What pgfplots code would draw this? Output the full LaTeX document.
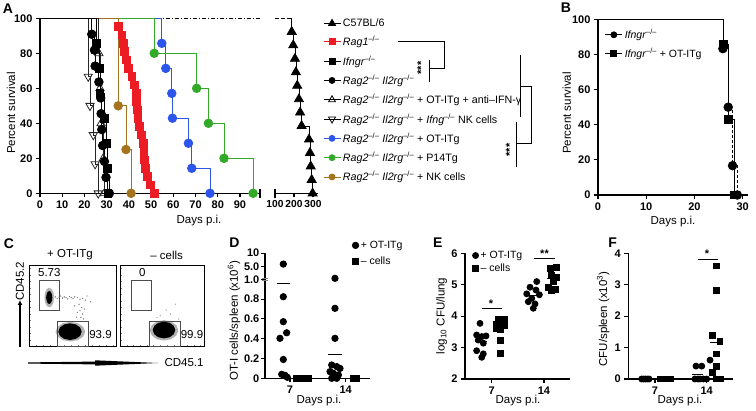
\documentclass[border=0pt]{standalone}
\usepackage{pgfplots}
\pgfplotsset{compat=1.18}
\usetikzlibrary{arrows.meta}
\usepackage{fontspec}
\setmainfont{Liberation Sans}

\definecolor{cred}{RGB}{237,28,36}
\definecolor{cblue}{RGB}{45,85,235}
\definecolor{cgreen}{RGB}{50,170,40}
\definecolor{cbrown}{RGB}{165,115,30}
\newcommand{\ko}{\textsuperscript{–/–}}
\newcommand{\rr}{\textit{Rag2}\ko{} \textit{Il2rg}\ko}

\pgfplotsset{
  base/.style={scale only axis, anchor=south west, clip=false, enlargelimits=false,
    axis lines=left, axis line style={-, line width=1.1pt},
    tick align=outside, major tick length=4pt,
    tick style={black, line width=1.1pt},
    tick label style={font=\fontsize{11}{12}\selectfont\bfseries},
    /pgf/number format/assume math mode=true,
    every axis plot/.append style={line width=0.8pt}},
  km/.style={const plot, mark phase=2, forget plot},
  flow/.style={scale only axis, anchor=south west, clip=false,
    xmin=0, xmax=100, ymin=0, ymax=100,
    axis line style={line width=0.7pt},
    xtick={8,16,...,96}, ytick={8,16,...,96}, xticklabel=\empty, yticklabel=\empty,
    tick align=inside, major tick length=2pt, xtick pos=bottom, ytick pos=left,
    tick style={gray, line width=0.4pt}},
  dot/.style={only marks, black, mark=*, mark size=3.2pt},
  sq/.style={only marks, black, mark=square*, mark size=2.9pt},
  mean/.style={black, line width=1pt, forget plot},
  mleg/.style={legend cell align=left, legend image code/.code={\draw[##1] plot coordinates {(0pt,0pt)};},
    legend style={draw=none, fill=none, inner sep=0pt, anchor=north west,
      font=\fontsize{10.5}{12}\selectfont, /tikz/every even column/.append style={column sep=3pt}}},
}

\begin{document}
\begin{tikzpicture}
\path[use as bounding box] (0pt,0pt) rectangle (756pt,-411pt);

% ---------------- A (days 0-99)
\begin{axis}[base, at={(40pt,-193.3pt)}, width=220pt, height=175pt,
  xmin=0, xmax=99, ymin=0, ymax=100,
  xtick={0,10,...,90}, ytick={0,20,...,100},
  legend cell align=left,
  legend style={at={(rel axis cs:1.286,1.01)}, anchor=north west, draw=none, fill=none,
    inner sep=0pt, row sep=4.4pt, font=\fontsize{10.7}{12}\selectfont,
    /tikz/every even column/.append style={column sep=2pt}}]
\addlegendimage{black, mark=triangle*, mark size=4pt}
\addlegendentry{C57BL/6}
\addlegendimage{cred, mark=square*, mark size=3pt}
\addlegendentry{\textit{Rag1}\ko}
\addlegendimage{black, mark=square*, mark size=3pt}
\addlegendentry{\textit{Ifngr}\ko}
\addlegendimage{black, mark=*, mark size=3pt}
\addlegendentry{\rr}
\addlegendimage{black, mark=triangle, mark size=4pt, mark options={fill=white}}
\addlegendentry{\rr{} + OT-ITg + anti–IFN-γ}
\addlegendimage{black, mark=triangle, mark size=4pt, mark options={fill=white, rotate=180}}
\addlegendentry{\rr{} + \textit{Ifng}\ko{} NK cells}
\addlegendimage{cblue, mark=*, mark size=3pt}
\addlegendentry{\rr{} + OT-ITg}
\addlegendimage{cgreen, mark=*, mark size=3pt}
\addlegendentry{\rr{} + P14Tg}
\addlegendimage{cbrown, mark=*, mark size=3pt}
\addlegendentry{\rr{} + NK cells}

\addplot[black, dash pattern=on 4pt off 2pt on 1pt off 2pt, forget plot] coordinates {(0,100) (99,100)};
% OT-ITg
\addplot[km, cblue, mark=*, mark size=4.3pt] coordinates {
 (0,100) (54.8,85.7) (56.6,71.4) (59.3,57.1) (59.6,42.9) (66.8,28.6) (68.3,14.3) (76.5,0)};
% P14Tg
\addplot[km, cgreen, mark=*, mark size=4.3pt] coordinates {
 (0,100) (51.4,80) (70.5,60) (75.8,40) (82.8,20) (95.9,0)};
% Rag1
\addplot[km, cred, mark=square*, mark size=3.8pt] coordinates {
 (0,100) (35.2,95.2) (36.8,90.5) (37.4,85.7) (38.0,81.0) (38.8,76.2) (39.8,71.4)
 (41.3,66.7) (42.5,61.9) (43.3,57.1) (43.5,52.4) (43.7,47.6) (44.0,42.9) (44.8,38.1)
 (45.5,33.3) (46.5,28.6) (46.8,23.8) (47.0,19.0) (47.3,14.3) (48.2,9.5) (49.7,4.8) (51.6,0)};
% NK cells
\addplot[km, cbrown, mark=*, mark size=4.3pt] coordinates {
 (0,100) (35.2,50) (38.7,25) (41.0,0)};
% Ifng-/- NK cells
\addplot[km, black!85, mark=triangle, mark size=4.8pt, mark options={fill=white, rotate=180}] coordinates {
 (0,100) (21.7,66.7) (22.5,50) (24.0,33.3) (24.8,16.7) (26.2,0)};
% anti-IFN-gamma
\addplot[km, black!85, mark=triangle, mark size=4.8pt, mark options={fill=white}] coordinates {
 (0,100) (26.5,80) (27.0,60) (27.5,40) (28.5,20) (29.0,0)};
% Ifngr-/-
\addplot[km, black, mark=square*, mark size=3.8pt] coordinates {
 (0,100) (25.5,85.7) (26.8,71.4) (27.0,57.1) (28.9,42.9) (30.0,28.6) (30.2,14.3) (30.5,0)};
% Rag2-/- Il2rg-/-
\addplot[km, black, mark=*, mark size=4.3pt] coordinates {
 (0,100) (23.3,90.9) (24.5,81.8) (24.8,72.7) (26.5,63.6) (27.3,54.5) (27.5,45.5)
 (27.8,36.4) (28.2,27.3) (29.0,18.2) (29.7,9.1) (31.2,0)};
\end{axis}

% ---------------- A (days 100-300)
\begin{axis}[base, at={(275pt,-193.3pt)}, width=42.75pt, height=175pt,
  axis y line=none, xmin=100, xmax=325, ymin=0, ymax=100, xtick={100,200,300},
  tick label style={font=\fontsize{10.2}{12}\selectfont\bfseries}]
\addplot[black, dash pattern=on 4pt off 2pt, forget plot] coordinates {(100,100) (188,100)};
\addplot[km, black, mark=triangle*, mark size=5.2pt] coordinates {
 (188,100) (188,92.3) (196,84.6) (205,76.9) (210,69.2) (217,61.5) (226,53.8) (232,46.2)
 (240,38.5) (279,30.8) (284,23.1) (288,15.4) (293,7.7) (298,0)};
\end{axis}

% ---------------- B
\begin{axis}[base, at={(598pt,-195pt)}, width=149.5pt, height=175.7pt,
  xmin=0, xmax=31, ymin=0, ymax=100, xtick={0,10,20,30}, ytick={0,20,...,100},
  legend cell align=left,
  legend style={at={(rel axis cs:0.045,0.955)}, anchor=north west, draw=none, fill=none,
    inner sep=0pt, row sep=4pt, font=\fontsize{10.5}{12}\selectfont,
    /tikz/every even column/.append style={column sep=2pt}}]
\addlegendimage{black, mark=*, mark size=3pt}
\addlegendentry{\textit{Ifngr}\ko}
\addlegendimage{black, mark=square*, mark size=3pt}
\addlegendentry{\textit{Ifngr}\ko{} + OT-ITg}
\addplot[km, black, dash pattern=on 3pt off 2pt, mark=*, mark size=4.3pt, mark options={solid}] coordinates {
 (0,100) (25.9,83.3) (27.0,50) (27.9,16.7) (28.9,0)};
\addplot[km, black, mark=square*, mark size=3.8pt] coordinates {
 (0,100) (26.0,85.7) (27.0,42.9) (28.2,0)};
\end{axis}

% ---------------- C (flow plots)
\begin{axis}[flow, at={(29.3pt,-346.7pt)}, width=87.4pt, height=81.7pt]
\addplot[fill=gray!60, draw=none] coordinates {
 (64,18.4) (61.7,24.4) (55.5,28.8) (47,30.4) (38.5,28.8) (32.3,24.4) (30,18.4)
 (32.3,12.4) (38.5,8) (47,6.4) (55.5,8) (61.7,12.4)};
\addplot[fill=black, draw=none] coordinates {
 (60.0,18.4) (58.2,23.5) (53.3,27.2) (46.6,28.6) (39.9,27.2) (35.0,23.5) (33.2,18.4)
 (35.0,13.3) (39.9,9.6) (46.6,8.2) (53.3,9.6) (58.2,13.3)};
\addplot[fill=gray!60, draw=none] coordinates {
 (28.3,60.2) (27.6,66.2) (25.6,70.6) (22.8,72.2) (20.0,70.6) (18.0,66.2) (17.3,60.2)
 (18.0,54.2) (20.0,49.8) (22.8,48.2) (25.6,49.8) (27.6,54.2)};
\addplot[fill=black, draw=none] coordinates {
 (26.3,60.2) (25.8,64.2) (24.6,67.1) (22.8,68.2) (21.0,67.1) (19.8,64.2) (19.3,60.2)
 (19.8,56.2) (21.0,53.3) (22.8,52.2) (24.6,53.3) (25.8,56.2)};
\addplot[only marks, gray, mark=*, mark size=0.4pt] coordinates {
 (30,61) (32,59) (34,60.5) (36,62) (38,59.5) (40,61) (42,60) (44,58.5) (46,61.5) (48,60)
 (50,59) (52,61) (55,60) (58,58) (61,59) (64,57) (57,52) (60,48) (58,44) (61,40) (55,42)
 (59,36) (62,34) (54,36) (66,62) (70,55) (52,50) (63,46)};
\draw[gray!60!black, line width=0.6pt] (axis cs:11.4,44.9) rectangle (axis cs:34.3,81.6);
\draw[gray!60!black, line width=0.6pt] (axis cs:32,0.9) rectangle (axis cs:67.5,30.6);
\end{axis}

\begin{axis}[flow, at={(120pt,-346.7pt)}, width=84pt, height=81.7pt]
\addplot[fill=gray!60, draw=none] coordinates {
 (69.4,20) (67.1,26.3) (60.9,30.8) (52.4,32.5) (43.9,30.8) (37.7,26.3) (35.4,20)
 (37.7,13.8) (43.9,9.2) (52.4,7.5) (60.9,9.2) (67.1,13.8)};
\addplot[fill=black, draw=none] coordinates {
 (65.8,20.4) (64.0,25.5) (59.1,29.2) (52.4,30.6) (45.7,29.2) (40.8,25.5) (39.0,20.4)
 (40.8,15.3) (45.7,11.6) (52.4,10.2) (59.1,11.6) (64.0,15.3)};
\addplot[only marks, gray!70, mark=*, mark size=0.4pt] coordinates {
 (60,40) (48,38) (70,34) (55,45) (66,52) (44,36)};
\draw[gray!60!black, line width=0.6pt] (axis cs:13.9,44.9) rectangle (axis cs:37.7,81.6);
\draw[gray!60!black, line width=0.6pt] (axis cs:35,0.9) rectangle (axis cs:71.4,30.6);
\end{axis}

% ---------------- D (broken y axis: 0-1 linear, then 5 and 10)
\begin{axis}[base, mleg, at={(265pt,-378.3pt)}, width=105pt, height=125.7pt,
  xmin=3.86, xmax=17.05, ymin=0, ymax=1.27, xtick={7,14},
  ytick={0,0.2,0.4,0.6,0.8,1.0,1.127,1.263}, yticklabel=\empty,
  legend style={at={(rel axis cs:0.83,1.11)}, row sep=3pt}]
\addplot[dot] coordinates {
 (6.16,1.154) (6.16,0.824) (6.16,0.572) (6.58,0.46) (5.74,0.404) (6.16,0.19)
 (5.96,0.04) (6.37,0.03) (6.66,0.01)
 (12.65,1.01) (12.65,0.707) (12.65,0.404) (12.24,0.134) (12.87,0.118) (13.28,0.10)
 (12.03,0.067) (12.45,0.05) (13.08,0.034) (12.24,0) (12.87,0)};
\addlegendentry{+ OT-ITg}
\addplot[sq] coordinates {(7.8,0) (8.3,0) (8.8,0) (9.3,0) (14.9,0) (15.4,0)};
\addlegendentry{– cells}
\addplot[mean] coordinates {(5.33,0.96) (7.0,0.96)};
\addplot[mean] coordinates {(11.82,0.242) (13.5,0.242)};
\end{axis}

% ---------------- E
\begin{axis}[base, mleg, at={(465pt,-379pt)}, width=105pt, height=125.7pt,
  xmin=3.43, xmax=17.48, ymin=2, ymax=6, xtick={7,14}, ytick={2,3,4,5,6},
  legend style={at={(rel axis cs:0.07,1.035)}, row sep=0pt}]
\addplot[dot, mark size=3pt] coordinates {
 (5.44,3.77) (4.99,3.40) (5.67,3.35) (6.24,3.37) (5.21,3.24) (5.88,3.14) (4.99,2.90)
 (5.88,2.80) (5.67,2.69)
 (13.03,5.10) (12.13,4.92) (12.93,4.83) (11.69,4.71) (13.38,4.68) (12.36,4.57)
 (11.9,4.46) (12.8,4.39) (12.57,4.25)};
\addlegendentry{+ OT-ITg}
\addplot[sq] coordinates {
 (7.89,3.90) (8.65,3.90) (7.67,3.75) (8.34,3.77) (8.78,3.69) (7.58,3.61) (8.12,3.58)
 (8.21,3.24) (8.21,2.82)
 (14.81,5.53) (15.71,5.55) (15.04,5.31) (15.71,5.24) (15.25,5.10) (14.58,4.92)
 (15.48,4.86) (15.04,4.81)};
\addlegendentry{– cells}
\addplot[mean] coordinates {(4.77,3.19) (6.33,3.19)};
\addplot[mean] coordinates {(7.4,3.65) (9.0,3.65)};
\addplot[mean] coordinates {(11.5,4.66) (13.3,4.66)};
\addplot[mean] coordinates {(14.4,5.2) (16.0,5.2)};
\draw[line width=0.7pt] (axis cs:5.67,4.25) -- (axis cs:8.34,4.25);
\draw[line width=0.7pt] (axis cs:12.67,5.84) -- (axis cs:15.48,5.84);
\end{axis}

% ---------------- F
\begin{axis}[base, at={(628.3pt,-379pt)}, width=104.7pt, height=125.7pt,
  xmin=3.39, xmax=17.56, ymin=0, ymax=4, xtick={7,14}, ytick={0,1,2,3,4}]
\addplot[dot, mark size=3pt] coordinates {
 (5.2,0) (5.45,0) (5.7,0) (5.95,0) (6.2,0)
 (12.55,0.41) (13.33,0.41) (14.45,0.6) (12.4,0) (12.8,0) (13.1,0) (13.55,0) (14.0,0)};
\addplot[sq] coordinates {
 (7.7,0) (8.05,0) (8.4,0) (8.75,0) (9.1,0)
 (15.36,3.6) (15.36,2.81) (14.82,1.40) (15.8,1.19) (15.36,0.80) (15.36,0.41)
 (14.82,0.20) (15.36,0) (15.93,0)};
\addplot[mean] coordinates {(12.0,0.13) (13.5,0.13)};
\addplot[mean] coordinates {(14.45,1.16) (16.03,1.16)};
\draw[line width=0.7pt] (axis cs:12.79,3.81) -- (axis cs:15.5,3.81);
\end{axis}

% ---------------- annotations
\begin{scope}[x=1pt, y=-1pt, font=\fontsize{11.5}{13}\selectfont]
% D tick labels
\begin{scope}[every node/.style={anchor=east, inner sep=1pt, font=\fontsize{11}{12}\selectfont\bfseries}]
\node at (260.5,378.3) {0};
\node at (260.5,358.5) {0.2};
\node at (260.5,338.7) {0.4};
\node at (260.5,318.9) {0.6};
\node at (260.5,299.1) {0.8};
\node at (260.5,279.6) {1.0};
\node at (260.5,266.7) {5.0};
\node at (260.5,253.2) {10};
\end{scope}
% axis breaks
\draw[line width=1.1pt] (260,188.8) -- (260,197.8);
\draw[line width=1.1pt] (275,188.8) -- (275,197.8);
\draw[gray, line width=0.8pt] (262,278) -- (268,278) (262,280.6) -- (268,280.6);
% significance in A
\draw[line width=0.6pt] (398.3,41.7) -- (444,41.7) -- (444,68.3) -- (429.3,68.3);
\draw[line width=0.6pt] (429.3,60) -- (429.3,81.7);
\node[rotate=90, font=\fontsize{11}{12}\selectfont\bfseries] at (421,68) {***};
\draw[line width=0.6pt] (520.7,55) -- (520.7,116.7);
\draw[line width=0.6pt] (520.7,86) -- (531.7,86) -- (531.7,143.3) -- (516.7,143.3);
\draw[line width=0.6pt] (516.7,121.7) -- (516.7,166.7);
\node[rotate=90, font=\fontsize{11}{12}\selectfont\bfseries] at (509.5,150) {***};
% stars D-F
\node[font=\fontsize{11}{12}\selectfont\bfseries] at (491,304) {*};
\node[font=\fontsize{11}{12}\selectfont\bfseries] at (544.5,254) {**};
\node[font=\fontsize{11}{12}\selectfont\bfseries] at (707,254) {*};
% panel letters
\begin{scope}[font=\fontsize{14}{14}\selectfont\bfseries]
\node at (8,9) {A};
\node at (566,8) {B};
\node at (9,244) {C};
\node at (234.5,243) {D};
\node at (437.7,243) {E};
\node at (612.7,243) {F};
\end{scope}
% axis labels
\node[rotate=90] at (11,113) {Percent survival};
\node at (199,221) {Days p.i.};
\node[rotate=90] at (566.7,113) {Percent survival};
\node at (673,222) {Days p.i.};
\node[rotate=90] at (234,320.8) {OT-I cells/spleen (x10\textsuperscript{6})};
\node at (319,401) {Days p.i.};
\node[rotate=90] at (441.7,316) {log\textsubscript{10} CFU/lung};
\node at (518,401) {Days p.i.};
\node[rotate=90] at (603.3,319) {CFU/spleen (x10\textsuperscript{3})};
\node at (680,401) {Days p.i.};
% C texts
\node at (70,255) {+ OT-ITg};
\node at (166.7,255) {– cells};
\node at (49.3,273) {5.73};
\node at (100.5,335) {93.9};
\node at (142.3,273) {0};
\node at (192,335) {99.9};
\node[rotate=90] at (20,281.5) {CD45.2};
\draw[line width=1.6pt, -{Latex[length=5pt,width=5pt]}] (20,347) -- (20,300);
\node at (184,363) {CD45.1};
\fill (28,362.4) -- (95,361.6) -- (95,360.3) -- (158,363) -- (95,365.7) -- (95,364.4) -- (28,363.6) -- cycle;
\end{scope}
\end{tikzpicture}
\end{document}
